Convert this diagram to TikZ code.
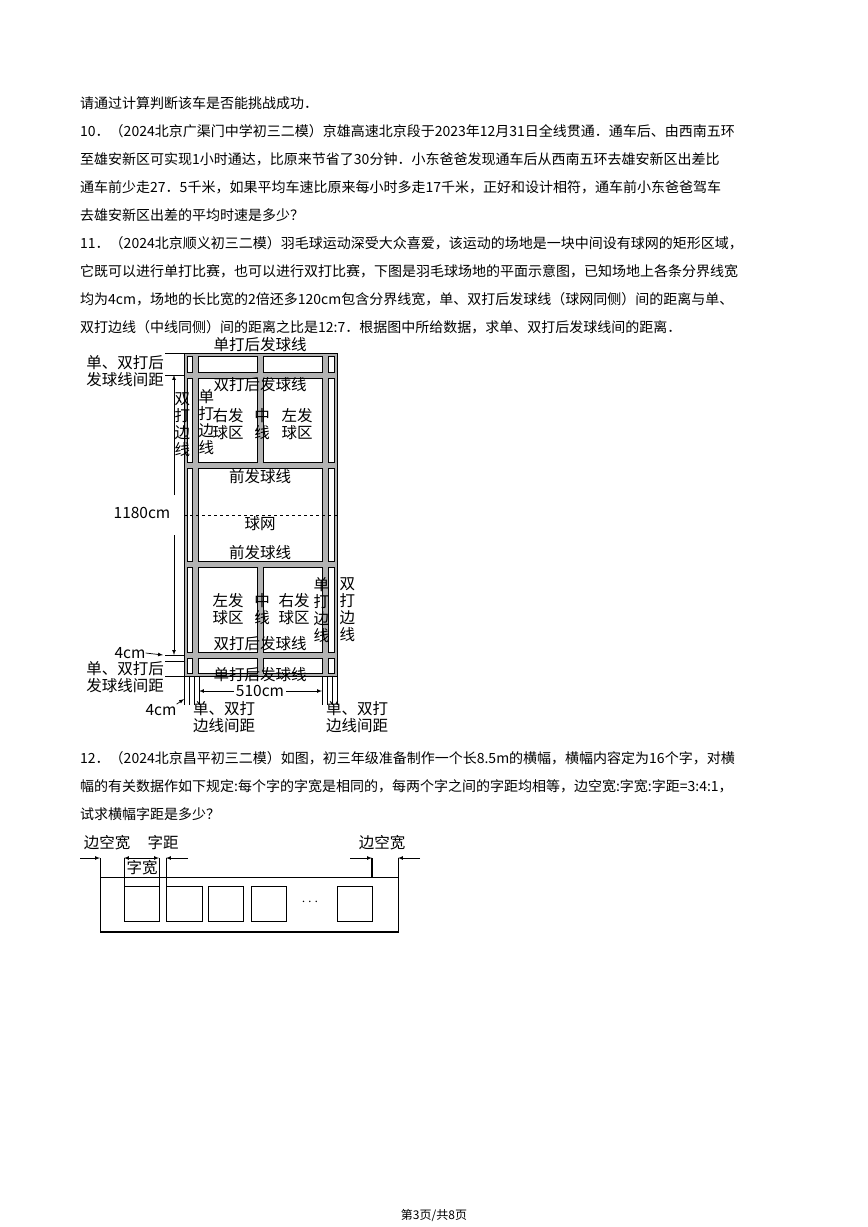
\documentclass[tikz,border=0pt]{standalone}
\usepackage{fontspec}
\setmainfont{Noto Sans CJK SC}
\begin{document}
\begin{tikzpicture}[x=1pt,y=-1pt,
  body/.style={anchor=west,inner sep=0pt,font=\fontsize{14}{14}\selectfont},
  lab/.style={inner sep=0pt,font=\fontsize{15.5}{17}\selectfont,align=center},
  cell/.style={fill=white,draw=black,line width=0.6pt},
  ext/.style={line width=0.6pt},
  arr/.style={-latex,line width=0.7pt}]
\useasboundingbox (0,0) rectangle (868,1227);
% text
\node[body] (t1) at (80,103) {请通过计算判断该车是否能挑战成功．};
\node[body] (t2) at (80,131) {10．（2024北京广渠门中学初三二模）京雄高速北京段于2023年12月31日全线贯通．通车后、由西南五环};
\node[body] (t3) at (80,159) {至雄安新区可实现1小时通达，比原来节省了30分钟．小东爸爸发现通车后从西南五环去雄安新区出差比};
\node[body] (t4) at (80,187) {通车前少走27．5千米，如果平均车速比原来每小时多走17千米，正好和设计相符，通车前小东爸爸驾车};
\node[body] (t5) at (80,215) {去雄安新区出差的平均时速是多少？};
\node[body] (t6) at (80,243) {11．（2024北京顺义初三二模）羽毛球运动深受大众喜爱，该运动的场地是一块中间设有球网的矩形区域，};
\node[body] (t7) at (80,271) {它既可以进行单打比赛，也可以进行双打比赛，下图是羽毛球场地的平面示意图，已知场地上各条分界线宽};
\node[body] (t8) at (80,299) {均为4cm，场地的长比宽的2倍还多120cm包含分界线宽，单、双打后发球线（球网同侧）间的距离与单、};
\node[body] (t9) at (80,327) {双打边线（中线同侧）间的距离之比是12:7．根据图中所给数据，求单、双打后发球线间的距离．};
% court
\fill[gray!60,draw=black,line width=0.6pt] (184,353) rectangle (337,676);
\foreach \xa/\xb in {184/195,195/260,260/325,325/337}{
  \foreach \ya/\yb in {353/375,375/465,564/655,655/676}{
    \draw[cell] (\xa+3,\ya+3) rectangle (\xb-3,\yb-3);}}
\foreach \xa/\xb in {184/195,325/337}{\draw[cell] (\xa+3,468) rectangle (\xb-3,561);}
\draw[cell] (198,468) rectangle (322,561);
\draw[dashed,line width=0.6pt] (184,515) -- (337,515);
\node[lab] (l1) at (260,345) {单打后发球线};
\node[lab] (l2) at (260,385) {双打后发球线};
\node[lab,text width=15pt] (l3) at (182,425) {双\\打\\边\\线};
\node[lab,text width=15pt] (l4) at (206,422) {单\\打\\边\\线};
\node[lab] (l5) at (228,424) {右发\\球区};
\node[lab] (l6) at (262,424) {中\\线};
\node[lab] (l7) at (297,424) {左发\\球区};
\node[lab] (l8) at (260,477) {前发球线};
\node[lab] (l9) at (260,524) {球网};
\node[lab] (l10) at (260,553) {前发球线};
\node[lab] (l11) at (228,609) {左发\\球区};
\node[lab] (l12) at (262,609) {中\\线};
\node[lab] (l13) at (294,609) {右发\\球区};
\node[lab,text width=15pt] (l14) at (321,610) {单\\打\\边\\线};
\node[lab,text width=15pt] (l15) at (347,610) {双\\打\\边\\线};
\node[lab] (l16) at (260,644) {双打后发球线};
\node[lab] (l17) at (260,675) {单打后发球线};
% left annotations
\foreach \y in {353,375,655,661,676}{\draw[ext] (165,\y) -- (184,\y);}
\node[lab] (a1) at (125,371) {单、双打后\\发球线间距};
\coordinate (up1) at (174,375);
\coordinate (up0) at (174,495);
\draw[arr] (up0) -- (up1);
\node[lab,font=\fontsize{15.5}{17}\selectfont\rmfamily] (a2) at (142,513) {1180cm};
\coordinate (dn0) at (174,535);
\coordinate (dn1) at (174,655);
\draw[arr] (dn0) -- (dn1);
\node[lab,font=\fontsize{15.5}{17}\selectfont\rmfamily] (a3) at (130,653) {4cm};
\coordinate (c4) at (163,655);
\draw[arr] (a3.east) -- (c4);
\node[lab] (a4) at (125,677) {单、双打后\\发球线间距};
% bottom annotations
\foreach \x in {184,189,194,199,322,327,332,337}{\draw[ext] (\x,676) -- (\x,705);}
\node[lab,font=\fontsize{15.5}{17}\selectfont\rmfamily,fill=white,inner xsep=2pt] (a5) at (260,691) {510cm};
\coordinate (w0) at (199,691);
\coordinate (w1) at (322,691);
\draw[arr] (a5.west) -- (w0);
\draw[arr] (a5.east) -- (w1);
\node[lab,font=\fontsize{15.5}{17}\selectfont\rmfamily] (a6) at (161,710) {4cm};
\coordinate (c5) at (184,699);
\draw[arr] (a6.north east) -- (c5);
\node[lab] (a7) at (224,717) {单、双打\\边线间距};
\node[lab] (a8) at (357,717) {单、双打\\边线间距};
% question 12
\node[body] (t10) at (80,758) {12．（2024北京昌平初三二模）如图，初三年级准备制作一个长8.5m的横幅，横幅内容定为16个字，对横};
\node[body] (t11) at (80,786) {幅的有关数据作如下规定:每个字的字宽是相同的，每两个字之间的字距均相等，边空宽:字宽:字距=3:4:1，};
\node[body] (t12) at (80,814) {试求横幅字距是多少？};
% banner
\draw[line width=0.8pt] (100,858) -- (100,932) -- (398,932) -- (398,858);
\draw[line width=1.6pt] (100,932) -- (398,932);
\draw[line width=0.6pt] (100,877) -- (398,877);
\foreach \xa/\xb in {124/159,166/202,208/243,251/286,337/372}{\draw[line width=0.6pt] (\xa,886) rectangle (\xb,921);}
\node[inner sep=0pt,font=\Large] (dots) at (310,902) {$\cdots$};
\draw[line width=0.6pt] (124,858) -- (124,886) -- (159,886);
\draw[line width=0.6pt] (159,858) -- (159,921);
\draw[line width=0.6pt] (166,858) -- (166,886);
\draw[line width=1.4pt] (372,858) -- (372,877);
\coordinate (b1) at (80,858); \coordinate (b2) at (100,858);
\draw[arr] (b1) -- (b2);
\coordinate (b3) at (141,858); \coordinate (b4) at (124,858); \coordinate (b5) at (159,858);
\draw[arr] (b3) -- (b4); \draw[arr] (b3) -- (b5);
\coordinate (b6) at (188,858); \coordinate (b7) at (166,858);
\draw[arr] (b6) -- (b7);
\coordinate (b8) at (350,858); \coordinate (b9) at (372,858);
\draw[arr] (b8) -- (b9);
\coordinate (b10) at (420,858); \coordinate (b11) at (398,858);
\draw[arr] (b10) -- (b11);
\node[lab] (n1) at (107,843) {边空宽};
\node[lab] (n2) at (163,843) {字距};
\node[lab] (n3) at (142,868) {字宽};
\node[lab] (n4) at (382,843) {边空宽};
\node[inner sep=0pt,font=\fontsize{12}{12}\selectfont] (foot) at (434,1215) {第3页/共8页};
\end{tikzpicture}
\end{document}
